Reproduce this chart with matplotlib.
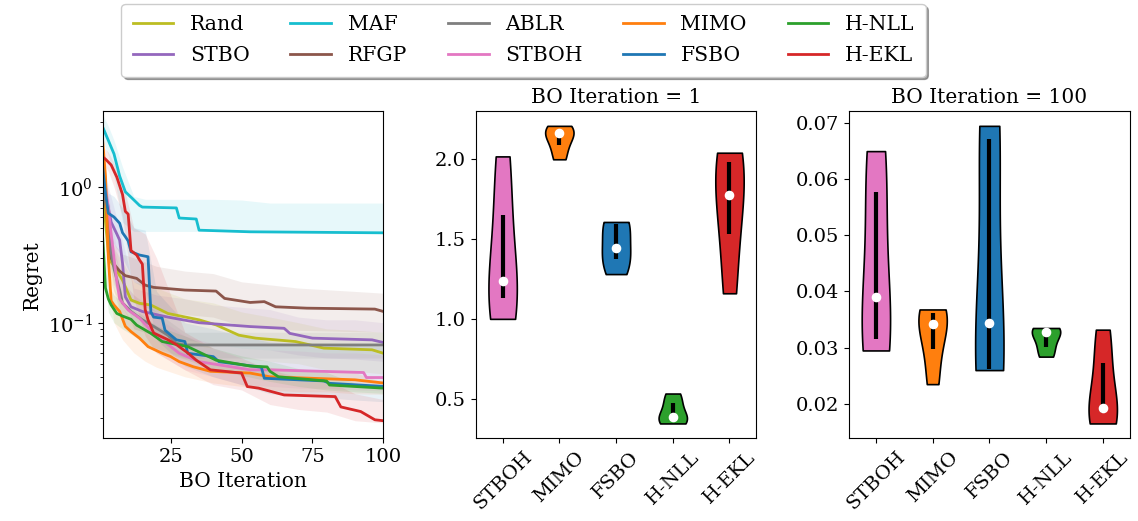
import numpy as np
import matplotlib
matplotlib.use("Agg")
import matplotlib.pyplot as plt

plt.rcParams["font.family"] = "DejaVu Serif"
plt.rcParams["mathtext.fontset"] = "dejavuserif"
plt.rcParams["font.size"] = 14

# ---- regret curves (mean) at breakpoints ----
methods = ["Rand", "STBO", "MAF", "RFGP", "ABLR", "STBOH", "MIMO", "FSBO", "H-NLL", "H-EKL"]
colors = ["C8", "C4", "C9", "C5", "C7", "C6", "C1", "C0", "C2", "C3"]

rand_x = [1, 2, 3, 4, 5, 8, 11, 14, 18, 24, 35, 41, 49, 55, 69, 79, 96, 100]
rand_y = [1.0, 0.55, 0.33, 0.28, 0.26, 0.206, 0.147, 0.139, 0.135, 0.117, 0.105, 0.0964,
          0.081, 0.077, 0.0727, 0.065, 0.0632, 0.0596]
stbo_x = [1, 2, 4, 6, 7, 8, 9, 11, 15, 24, 35, 53, 65, 67, 75, 96, 100]
stbo_y = [1.3, 0.9, 0.55, 0.45, 0.405, 0.275, 0.155, 0.131, 0.121, 0.11, 0.1, 0.0937,
          0.091, 0.0835, 0.077, 0.0748, 0.0715]
maf_x = [1, 3, 5, 7, 9, 11, 14, 15, 27, 28, 34, 35, 53, 100]
maf_y = [2.76, 2.2, 1.75, 1.2, 0.92, 0.84, 0.73, 0.71, 0.70, 0.59, 0.58, 0.48, 0.467, 0.459]
rfgp_x = [1, 2, 3, 4, 5, 7, 9, 13, 16, 19, 30, 41, 44, 53, 58, 62, 73, 97, 100]
rfgp_y = [1.5, 0.8, 0.45, 0.3, 0.27, 0.24, 0.222, 0.212, 0.189, 0.182, 0.174, 0.171,
          0.151, 0.141, 0.143, 0.131, 0.128, 0.126, 0.121]
ablr_x = [1, 2, 3, 4, 5, 7, 8, 11, 15, 19, 24, 27, 30, 100]
ablr_y = [1.2, 0.8, 0.5, 0.33, 0.25, 0.174, 0.14, 0.121, 0.105, 0.094, 0.081, 0.0706,
          0.0686, 0.0686]
stboh_x = [1, 2, 3, 4, 5, 6, 7, 8, 10, 14, 18, 22, 28, 35, 53, 60, 93, 94, 100]
stboh_y = [1.41, 1.0, 0.7, 0.45, 0.3, 0.2, 0.15, 0.14, 0.124, 0.108, 0.088, 0.0748,
           0.0596, 0.0517, 0.045, 0.045, 0.043, 0.0395, 0.0395]
mimo_x = [1, 2, 3, 4, 5, 7, 9, 11, 14, 17, 22, 25, 28, 33, 39, 53, 60, 90, 100]
mimo_y = [2.2, 1.2, 0.3, 0.145, 0.135, 0.121, 0.094, 0.086, 0.077, 0.0667, 0.0596,
          0.0563, 0.0517, 0.0474, 0.0439, 0.0426, 0.040, 0.038, 0.036]
fsbo_x = [1, 2, 3, 5, 7, 8, 9, 10, 11, 14, 17, 18, 19, 22, 23, 27, 30, 31, 40, 42, 57,
          58, 79, 81, 100]
fsbo_y = [1.40, 0.9, 0.64, 0.6, 0.54, 0.46, 0.43, 0.4, 0.333, 0.315, 0.306, 0.12, 0.11,
          0.108, 0.088, 0.0748, 0.0727, 0.0596, 0.0563, 0.0517, 0.047, 0.039, 0.0373,
          0.0358, 0.034]
hnll_x = [1, 2, 3, 4, 6, 8, 11, 13, 18, 22, 31, 41, 53, 59, 60, 63, 80, 81, 100]
hnll_y = [0.43, 0.18, 0.15, 0.135, 0.117, 0.112, 0.106, 0.096, 0.0835, 0.0727, 0.0667,
          0.053, 0.048, 0.0473, 0.0439, 0.040, 0.0372, 0.0348, 0.033]
hekl_x = [1, 2, 4, 6, 8, 9, 10, 11, 13, 14, 15, 16, 17, 19, 24, 27, 31, 34, 39, 50, 52,
          56, 65, 83, 85, 92, 97, 100]
hekl_y = [1.66, 1.6, 1.45, 1.18, 0.88, 0.66, 0.63, 0.34, 0.315, 0.29, 0.27, 0.125, 0.105,
          0.084, 0.075, 0.069, 0.06, 0.053, 0.045, 0.0426, 0.0339, 0.033, 0.0294, 0.0286,
          0.024, 0.0222, 0.0193, 0.019]

# ---- shaded bands (lower / upper) on a coarse grid ----
band_x = [1, 3, 5, 8, 12, 16, 20, 30, 40, 50, 60, 70, 80, 90, 100]
rand_lo = [0.7, 0.22, 0.17, 0.13, 0.09, 0.085, 0.08, 0.07, 0.065, 0.055, 0.052, 0.05, 0.045, 0.044, 0.042]
rand_hi = [1.3, 0.45, 0.35, 0.28, 0.2, 0.19, 0.18, 0.15, 0.14, 0.12, 0.11, 0.1, 0.09, 0.088, 0.085]
stbo_lo = [0.9, 0.5, 0.33, 0.18, 0.09, 0.085, 0.08, 0.075, 0.07, 0.065, 0.063, 0.058, 0.055, 0.054, 0.052]
stbo_hi = [1.7, 1.0, 0.7, 0.4, 0.18, 0.17, 0.16, 0.15, 0.135, 0.13, 0.125, 0.11, 0.105, 0.105, 0.1]
maf_lo = [2.2, 1.7, 1.2, 0.55, 0.47, 0.47, 0.47, 0.47, 0.47, 0.47, 0.47, 0.47, 0.47, 0.47, 0.47]
maf_hi = [3.4, 2.8, 2.2, 1.4, 0.85, 0.81, 0.81, 0.81, 0.81, 0.8, 0.76, 0.76, 0.76, 0.76, 0.76]
rfgp_lo = [1.0, 0.3, 0.19, 0.15, 0.14, 0.13, 0.12, 0.115, 0.11, 0.095, 0.09, 0.088, 0.087, 0.086, 0.085]
rfgp_hi = [2.0, 0.6, 0.38, 0.32, 0.3, 0.28, 0.26, 0.24, 0.23, 0.2, 0.19, 0.18, 0.175, 0.17, 0.165]
ablr_lo = [0.8, 0.35, 0.17, 0.1, 0.08, 0.07, 0.065, 0.055, 0.055, 0.055, 0.055, 0.055, 0.055, 0.055, 0.055]
ablr_hi = [1.6, 0.7, 0.35, 0.2, 0.16, 0.14, 0.12, 0.085, 0.085, 0.085, 0.085, 0.085, 0.085, 0.085, 0.085]
stboh_lo = [1.13, 0.5, 0.2, 0.1, 0.085, 0.07, 0.06, 0.045, 0.04, 0.035, 0.034, 0.033, 0.033, 0.032, 0.0315]
stboh_hi = [1.65, 0.9, 0.45, 0.2, 0.16, 0.13, 0.11, 0.08, 0.07, 0.065, 0.063, 0.062, 0.06, 0.06, 0.058]
mimo_lo = [2.08, 0.2, 0.1, 0.075, 0.06, 0.052, 0.047, 0.04, 0.036, 0.034, 0.032, 0.031, 0.031, 0.03, 0.0297]
mimo_hi = [2.17, 0.45, 0.18, 0.13, 0.1, 0.085, 0.075, 0.06, 0.053, 0.05, 0.047, 0.045, 0.044, 0.043, 0.0362]
fsbo_lo = [1.37, 0.4, 0.38, 0.3, 0.2, 0.18, 0.075, 0.048, 0.04, 0.035, 0.03, 0.029, 0.028, 0.027, 0.0262]
fsbo_hi = [1.6, 0.9, 0.85, 0.7, 0.5, 0.48, 0.17, 0.1, 0.09, 0.08, 0.072, 0.07, 0.069, 0.068, 0.0671]
hnll_lo = [0.37, 0.12, 0.1, 0.09, 0.08, 0.07, 0.062, 0.054, 0.045, 0.041, 0.037, 0.034, 0.032, 0.031, 0.0302]
hnll_hi = [0.47, 0.19, 0.16, 0.14, 0.125, 0.11, 0.095, 0.08, 0.065, 0.057, 0.052, 0.046, 0.043, 0.036, 0.033]
hekl_lo = [1.53, 1.3, 1.0, 0.6, 0.15, 0.08, 0.06, 0.045, 0.035, 0.032, 0.025, 0.023, 0.022, 0.019, 0.0183]
hekl_hi = [1.98, 1.8, 1.5, 1.1, 0.5, 0.45, 0.3, 0.085, 0.065, 0.055, 0.045, 0.04, 0.038, 0.03, 0.0272]

# ---- per-seed regret at the two snapshot iterations ----
violin_methods = ["STBOH", "MIMO", "FSBO", "H-NLL", "H-EKL"]
violin_colors = ["C6", "C1", "C0", "C2", "C3"]
iter1 = [
    [1.0, 1.13, 1.235, 1.647, 2.016],
    [1.998, 2.085, 2.162, 2.17, 2.207],
    [1.28, 1.372, 1.444, 1.596, 1.606],
    [0.346, 0.37, 0.386, 0.471, 0.533],
    [1.16, 1.533, 1.772, 1.983, 2.039],
]
iter100 = [
    [0.0295, 0.0315, 0.039, 0.0577, 0.065],
    [0.0235, 0.0297, 0.0342, 0.0362, 0.0368],
    [0.026, 0.0262, 0.0343, 0.0671, 0.0695],
    [0.0284, 0.0302, 0.0327, 0.033, 0.0335],
    [0.0165, 0.0183, 0.0193, 0.0272, 0.0332],
]

curves = [
    (rand_x, rand_y, rand_lo, rand_hi),
    (stbo_x, stbo_y, stbo_lo, stbo_hi),
    (maf_x, maf_y, maf_lo, maf_hi),
    (rfgp_x, rfgp_y, rfgp_lo, rfgp_hi),
    (ablr_x, ablr_y, ablr_lo, ablr_hi),
    (stboh_x, stboh_y, stboh_lo, stboh_hi),
    (mimo_x, mimo_y, mimo_lo, mimo_hi),
    (fsbo_x, fsbo_y, fsbo_lo, fsbo_hi),
    (hnll_x, hnll_y, hnll_lo, hnll_hi),
    (hekl_x, hekl_y, hekl_lo, hekl_hi),
]


def violins(ax, data, title):
    pos = np.arange(1, len(data) + 1)
    parts = ax.violinplot(data, positions=pos, widths=0.5, showextrema=False)
    for body, c in zip(parts["bodies"], violin_colors):
        body.set_facecolor(c)
        body.set_edgecolor("black")
        body.set_linewidth(1.2)
        body.set_alpha(1)
    q1, med, q3 = np.percentile(np.array(data), [25, 50, 75], axis=1)
    ax.vlines(pos, q1, q3, color="k", lw=3)
    ax.scatter(pos, med, color="white", s=35, zorder=3)
    ax.set_xticks(pos)
    ax.set_xticklabels(violin_methods, rotation=45)
    ax.set_title(title, fontsize=14.5)


fig = plt.figure(figsize=(11.38, 5.21), dpi=100)
w, h, bottom = 0.2467, 0.6283, 0.1587
ax0 = fig.add_axes([0.0902, bottom, w, h])
ax1 = fig.add_axes([0.418, bottom, w, h])
ax2 = fig.add_axes([0.746, bottom, w, h])

handles = []
for (x, y, lo, hi), name, c in zip(curves, methods, colors):
    ax0.fill_between(band_x, lo, hi, color=c, alpha=0.1, lw=0)
    (ln,) = ax0.plot(x, y, color=c, lw=2, label=name)
    handles.append(ln)

ax0.set_yscale("log")
ax0.set(xlim=(1, 100), ylim=(0.0141, 3.62), xticks=[25, 50, 75, 100])
ax0.set_xlabel("BO Iteration", fontsize=14.5)
ax0.set_ylabel("Regret", fontsize=14.5)

violins(ax1, iter1, "BO Iteration = 1")
ax1.set_yticks([0.5, 1.0, 1.5, 2.0])
violins(ax2, iter100, "BO Iteration = 100")

fig.legend(handles, methods, loc="upper center", ncol=5, bbox_to_anchor=(0.46, 1.012),
           shadow=True, fontsize=14.7, labelspacing=0.6, borderpad=0.55)

fig.savefig("out.png", dpi=100)
